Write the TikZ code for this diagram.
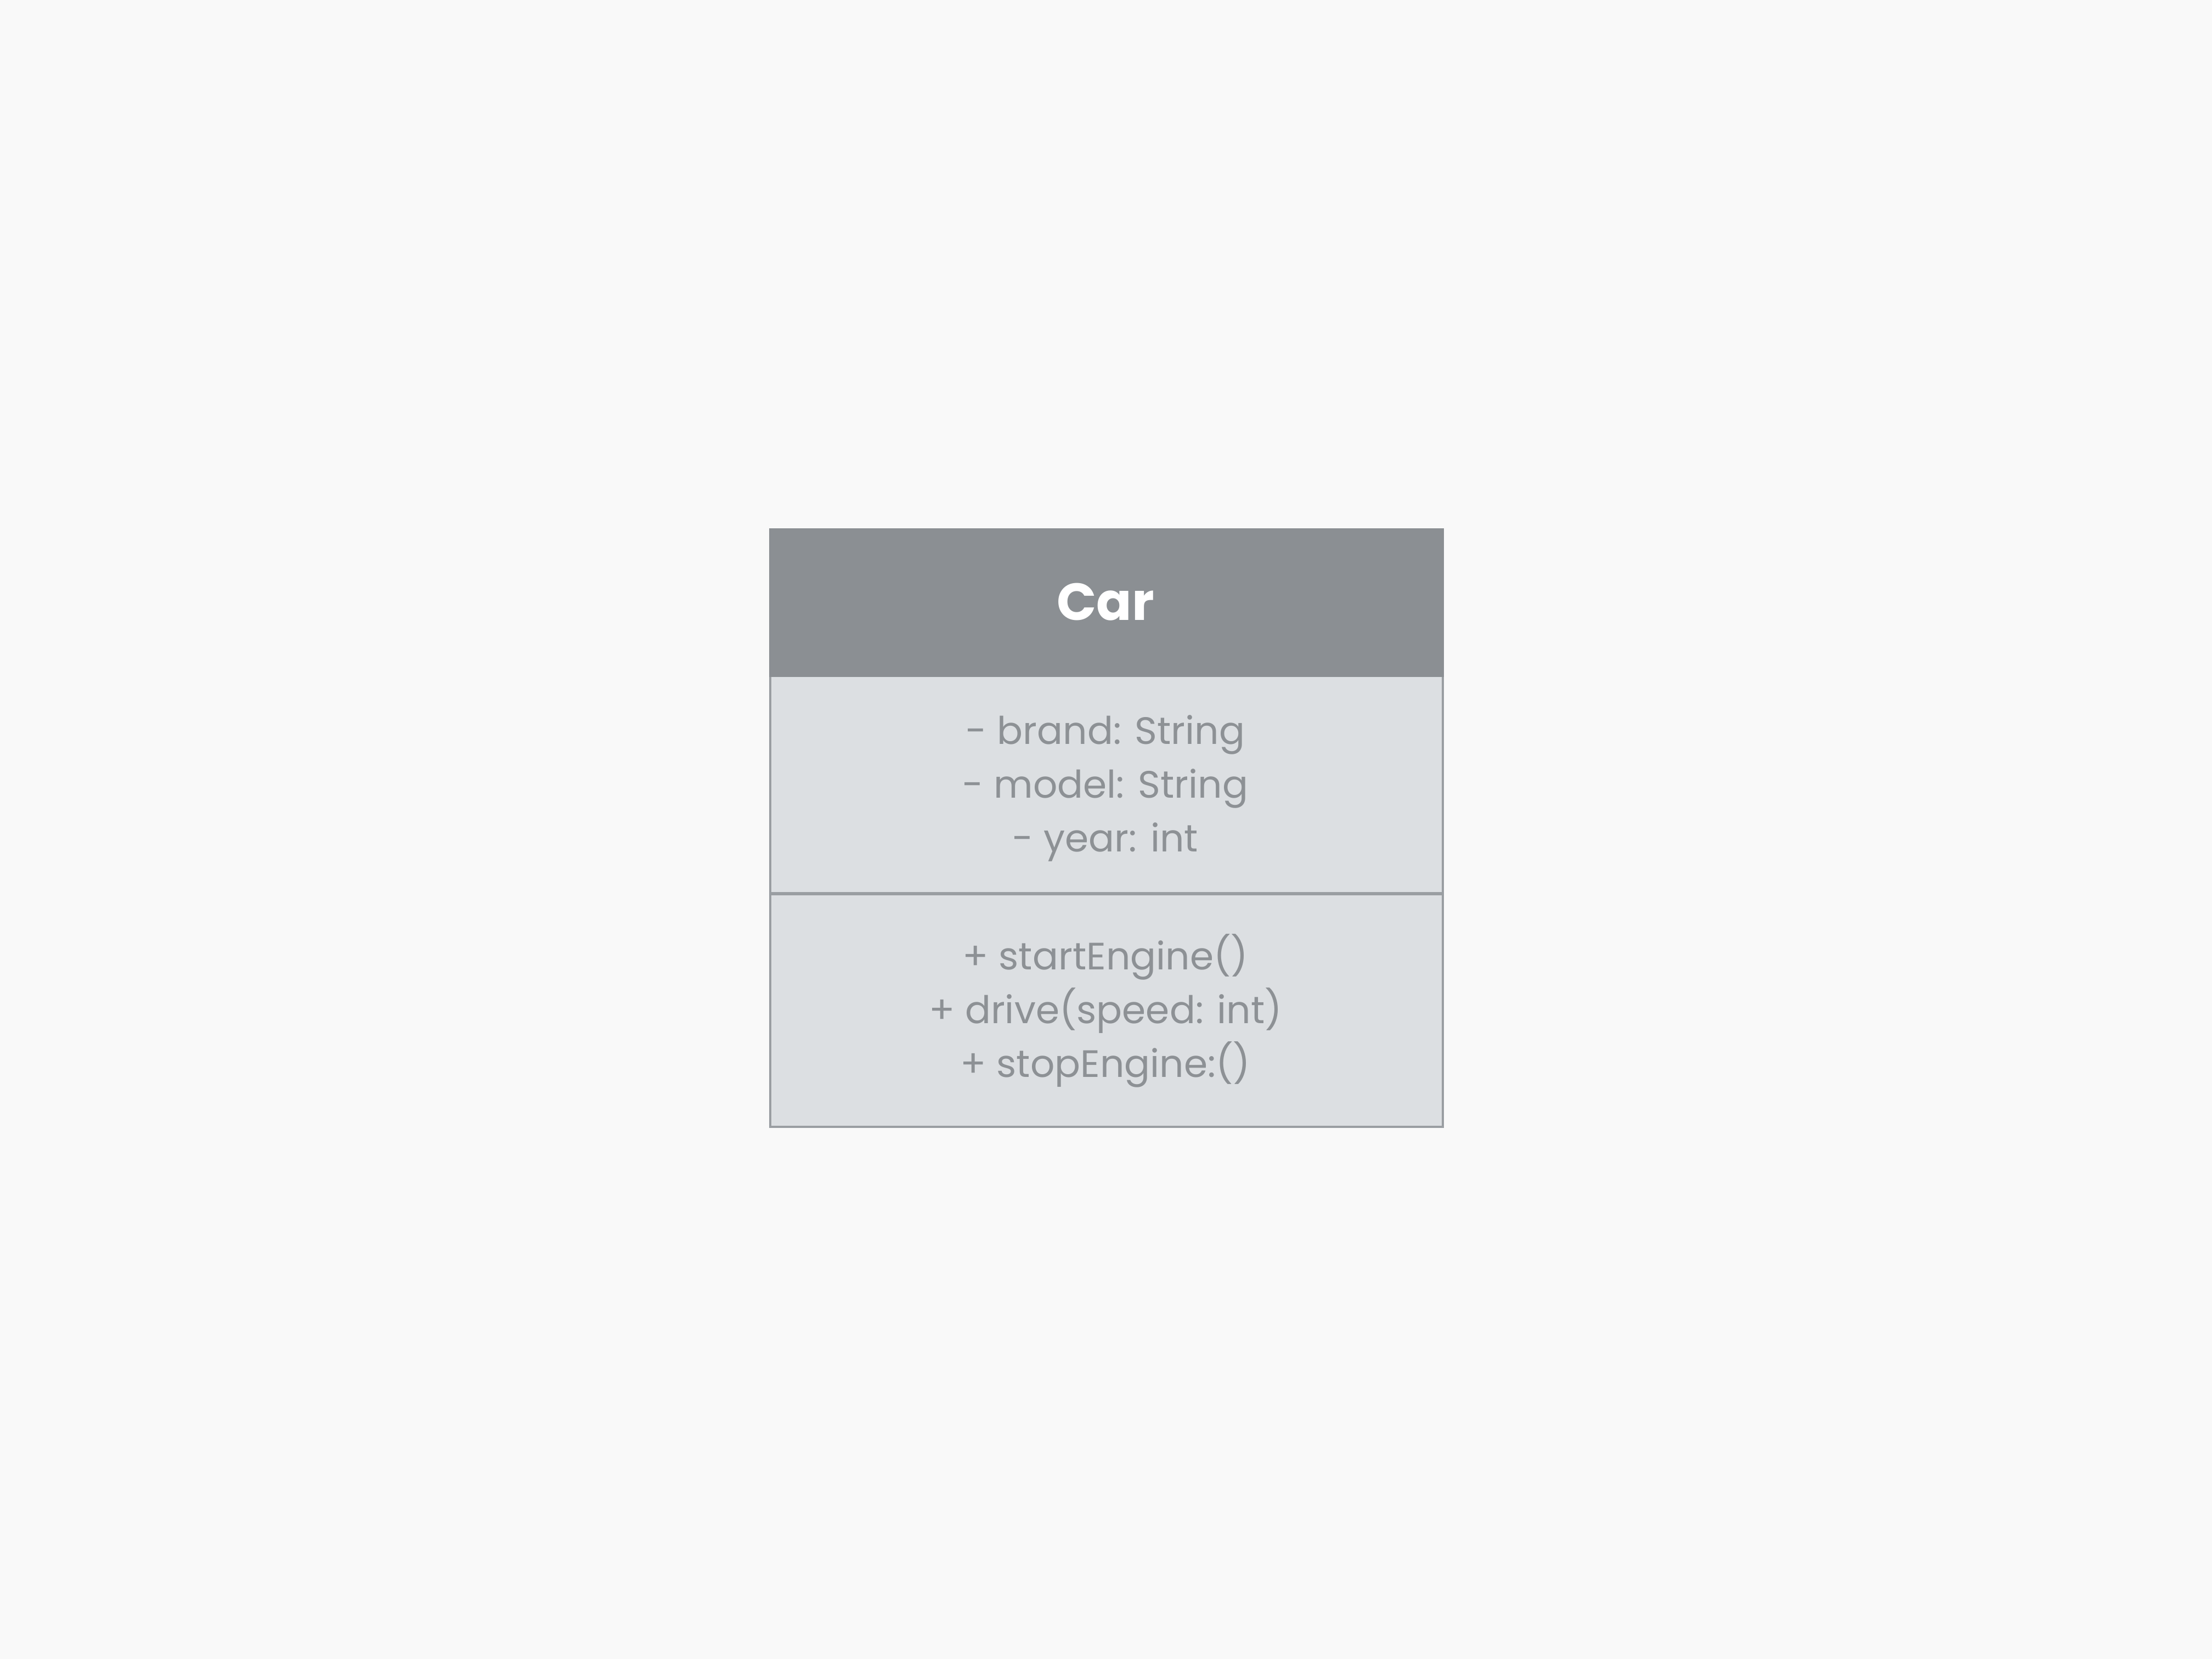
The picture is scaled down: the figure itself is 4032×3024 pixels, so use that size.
\documentclass[tikz,border=0pt]{standalone}
\usepackage{fontspec}
\setmainfont{Poppins}
\definecolor{bg}{HTML}{F9F9F9}
\definecolor{headfill}{HTML}{8B8F93}
\definecolor{bodyfill}{HTML}{DCDFE2}
\definecolor{edge}{HTML}{9A9EA2}
\definecolor{txt}{HTML}{8D9195}
\tikzset{
  section/.style={draw=edge, line width=0.4pt, fill=bodyfill, rectangle, inner sep=0, minimum width=122.6pt, anchor=north west},
  member/.style={text=txt, font=\fontsize{6.95pt}{9.8pt}\selectfont, anchor=base, inner sep=0},
  title/.style={text=white, font=\fontsize{9.5pt}{12pt}\selectfont\bfseries, anchor=base, inner sep=0}
}
\begin{document}
\begin{tikzpicture}[x=0.1pt,y=-0.1pt]
\useasboundingbox[fill=bg] (0,0) rectangle (4032,3024);
\node[section, minimum height=39.6pt] (attrs) at (1402,1230) {};
\node[section, minimum height=42.4pt] (methods) at (1402,1628) {};
\node[section, fill=headfill, draw=headfill, minimum height=26.7pt] (header) at (1402,963) {};
\node[title] (name) at (2015,1130) {Car};
\node[member] (a1) at (2015,1356) {- brand: String};
\node[member] (a2) at (2015,1454) {- model: String};
\node[member] (a3) at (2015,1552) {- year: int};
\node[member] (m1) at (2015,1767) {+ startEngine()};
\node[member] (m2) at (2015,1865) {+ drive(speed: int)};
\node[member] (m3) at (2015,1963) {+ stopEngine:()};
\end{tikzpicture}
\end{document}
